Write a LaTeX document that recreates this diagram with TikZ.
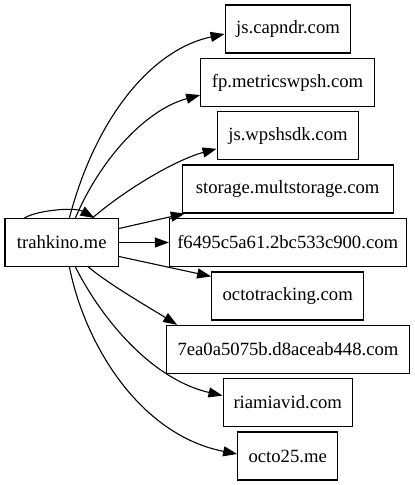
\documentclass[tikz,border=0pt]{standalone}
\usepackage{fontspec}
\setmainfont{Liberation Serif}
\usetikzlibrary{arrows.meta}
\begin{document}
\begin{tikzpicture}[x=1pt,y=-1pt,
  box/.style={draw, line width=1.1pt, minimum height=48pt, inner sep=0pt,
    font=\fontsize{18.67}{22}\selectfont},
  edge/.style={line width=1.1pt, -{Triangle[length=14pt,width=10pt]}}]
\useasboundingbox (0,0) rectangle (415,485);
\node[box, minimum width=113.5pt] (t) at (61.7,242.5) {trahkino.me};
\node[box, minimum width=125.7pt] (c1) at (288,29) {js.capndr.com};
\node[box, minimum width=173.6pt] (fp) at (287.5,82.5) {fp.metricswpsh.com};
\node[box, minimum width=141.7pt] (wp) at (288,135.8) {js.wpshsdk.com};
\node[box, minimum width=210.7pt] (st) at (287.7,189) {storage.multstorage.com};
\node[box, minimum width=236.7pt] (f6) at (287.7,242.5) {f6495c5a61.2bc533c900.com};
\node[box, minimum width=152pt] (oc) at (287.7,296) {octotracking.com};
\node[box, minimum width=242.6pt] (e7) at (288,349.4) {7ea0a5075b.d8aceab448.com};
\node[box, minimum width=129.3pt] (ri) at (287.7,402.6) {riamiavid.com};
\node[box, minimum width=100pt] (o25) at (287.7,456) {octo25.me};

\draw[edge] ([xshift=20pt]t.north west) .. controls (38,210) and (75,207) .. ([xshift=90pt]t.north west);
\draw[edge] ([xshift=65pt]t.north west) .. controls (95,120) and (150,50) .. ([yshift=-5pt]c1.west);
\draw[edge] ([xshift=71pt]t.north west) .. controls (100,160) and (145,110) .. ([yshift=-12.5pt]fp.west);
\draw[edge] ([xshift=88pt]t.north west) .. controls (125,190) and (175,160) .. ([yshift=-13pt]wp.west);
\draw[edge] ([yshift=14pt]t.east) -- ([xshift=3pt]st.south west);
\draw[edge] (t.east) -- (f6.west);
\draw[edge] ([yshift=-14pt]t.east) -- ([yshift=-5pt]oc.north west);
\draw[edge] ([xshift=84pt]t.south west) .. controls (110,285) and (150,308) .. ([xshift=11pt]e7.north west);
\draw[edge] ([xshift=71pt]t.south west) .. controls (105,325) and (155,380) .. ([yshift=7pt]ri.west);
\draw[edge] ([xshift=65pt]t.south west) .. controls (85,345) and (140,435) .. ([yshift=2pt]o25.west);
\end{tikzpicture}
\end{document}
